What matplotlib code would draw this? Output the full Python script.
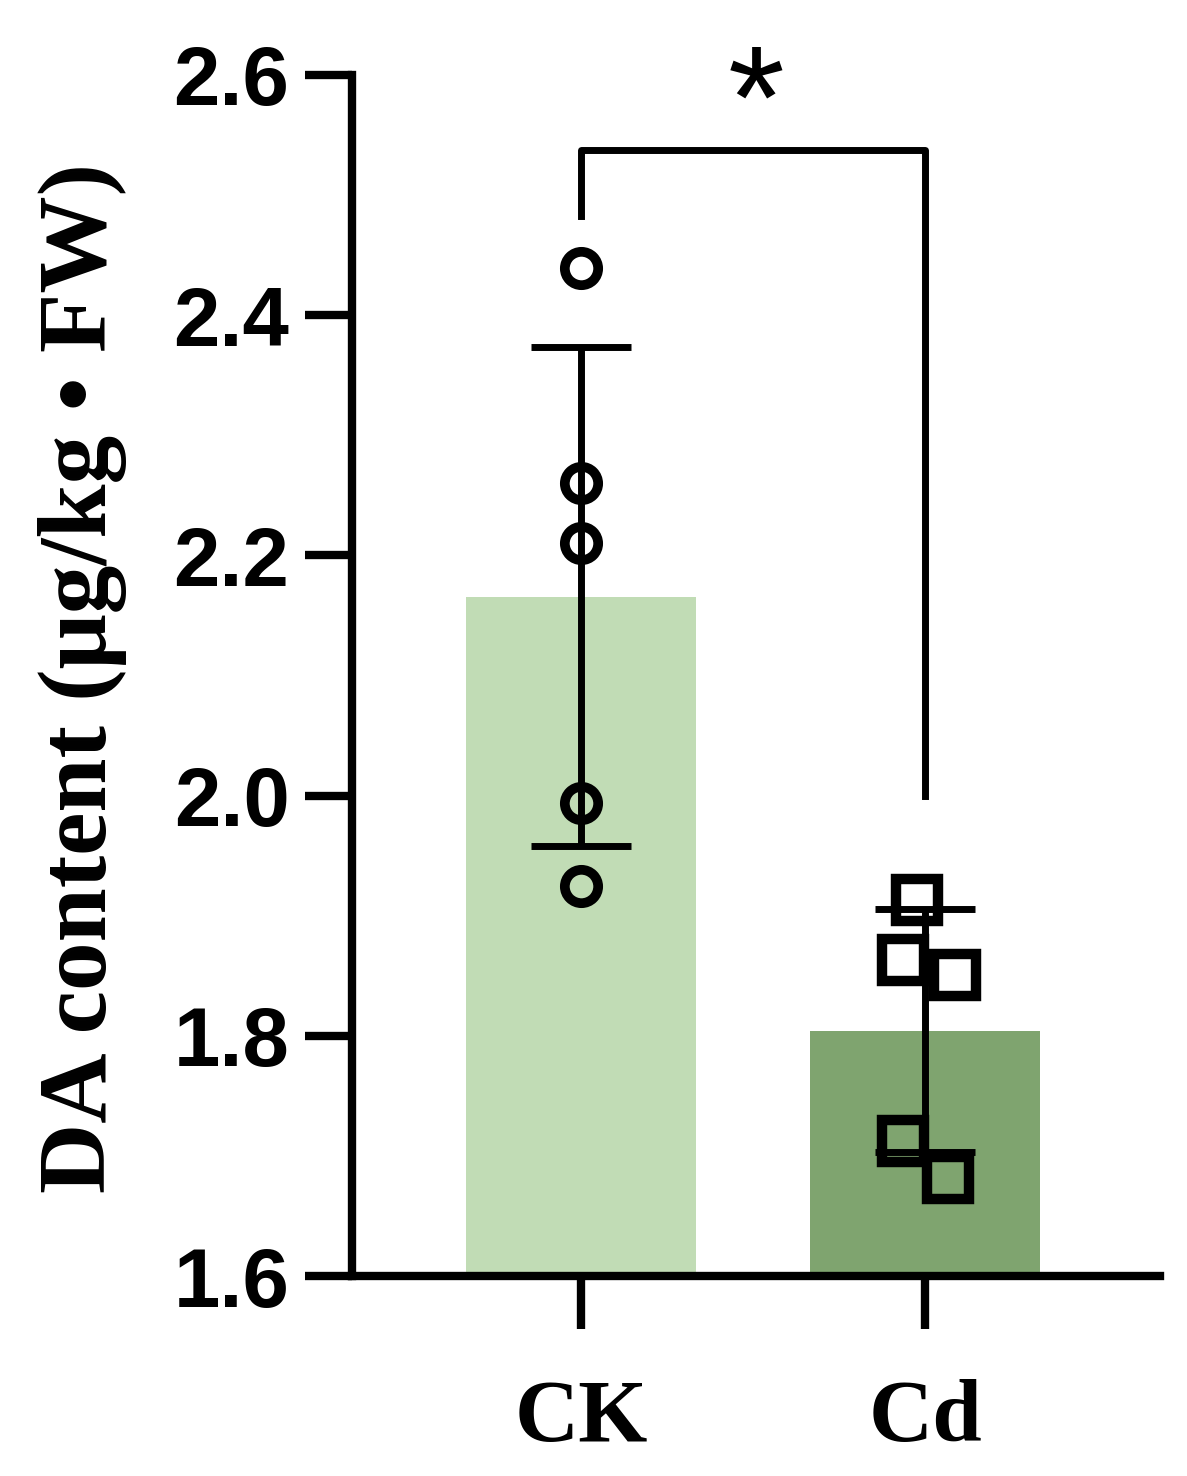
import matplotlib.pyplot as plt
import numpy as np

groups = ["CK", "Cd"]
ck_points = [2.439, 2.260, 2.210, 1.994, 1.925]
cd_points = [1.913, 1.863, 1.851, 1.712, 1.682]
cd_jitter = [-0.023, -0.064, 0.087, -0.064, 0.067]
bar_colors = ["#c1dcb5", "#7fa46f"]

means = [np.mean(ck_points), np.mean(cd_points)]
sds = [np.std(ck_points, ddof=1), np.std(cd_points, ddof=1)]
x = np.arange(len(groups))

fig = plt.figure(figsize=(11.87, 14.76), dpi=100)
ax = fig.add_axes([0.2965, 0.1355, 0.6808, 0.8137])

ax.bar(x, means, width=0.67, color=bar_colors, zorder=1)
ax.errorbar(x, means, yerr=sds, fmt="none", ecolor="black", elinewidth=5,
            capsize=36, capthick=5, zorder=2)

ax.plot(np.zeros(len(ck_points)), ck_points, "o", ms=24, mfc="none",
        mec="black", mew=7, zorder=3)
ax.plot(1 + np.array(cd_jitter), cd_points, "s", ms=30, mfc="none",
        mec="black", mew=7.5, zorder=3)

# significance bracket
ax.plot([0, 0, 1, 1], [2.483, 2.5375, 2.5375, 2.0], color="black", lw=5,
        clip_on=False)
ax.text(0.51, 2.54, "*", ha="center", va="baseline", fontsize=105,
        family="Liberation Sans")

ax.set_xlim(-0.666, 1.683)
ax.set_ylim(1.6, 2.6)
ax.set_yticks([1.6, 1.8, 2.0, 2.2, 2.4, 2.6])
ax.set_yticklabels(["1.6", "1.8", "2.0", "2.2", "2.4", "2.6"],
                   fontsize=60, fontweight="bold", family="Liberation Sans")
ax.set_xticks(x)
ax.set_xticklabels(groups, fontsize=64, fontweight="bold",
                   family="Liberation Serif")

for s in ["top", "right"]:
    ax.spines[s].set_visible(False)
for s in ["left", "bottom"]:
    ax.spines[s].set_linewidth(6)
ax.tick_params(axis="y", length=34, width=6, pad=11)
ax.tick_params(axis="x", length=38, width=6, pad=36)

ax.set_ylabel("DA content (μg/kg • FW)", fontsize=70, fontweight="bold",
              family="Liberation Serif")
ax.yaxis.set_label_coords(-0.278, 0.498)

fig.savefig("out.png", dpi=100)
